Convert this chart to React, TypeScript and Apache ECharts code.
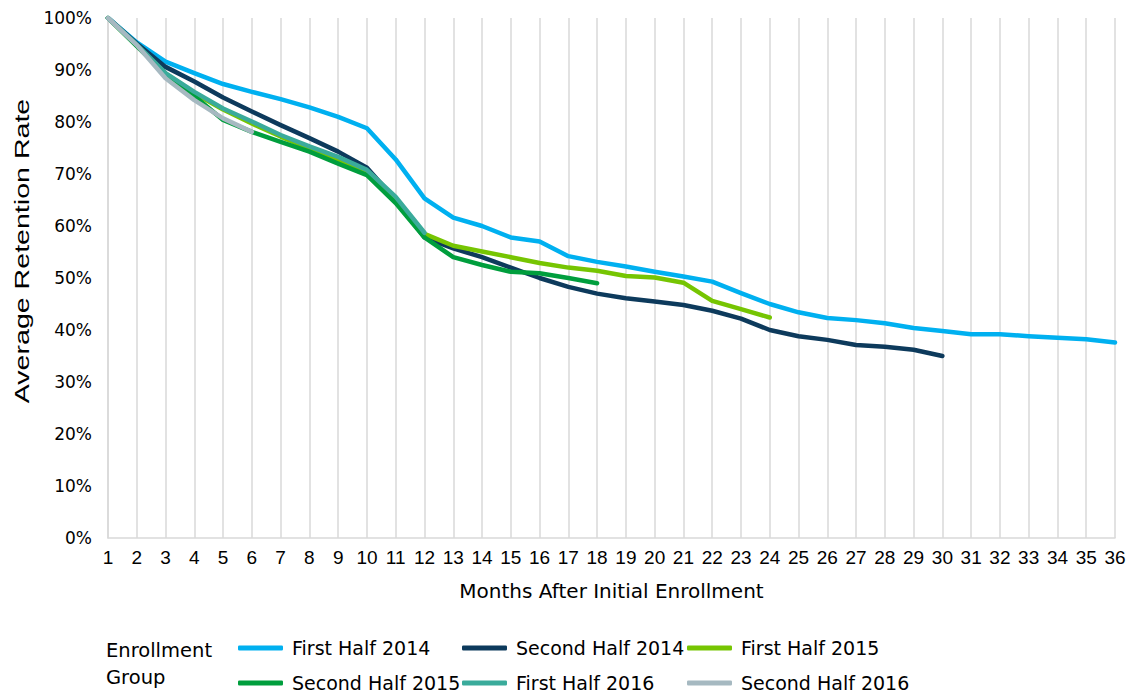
import React, { useEffect, useRef } from "react";
import * as echarts from "echarts";

const months: string[] = Array.from({ length: 36 }, (_, i) => String(i + 1));

const seriesNames: string[] = [
  "First Half 2014",
  "Second Half 2014",
  "First Half 2015",
  "Second Half 2015",
  "First Half 2016",
  "Second Half 2016",
];

const firstHalf2014: number[] = [
  100, 95.3, 91.6, 89.4, 87.3, 85.8, 84.4, 82.8, 81.0, 78.8, 72.8, 65.3, 61.6, 60.0, 57.8, 57.0,
  54.2, 53.1, 52.2, 51.2, 50.3, 49.3, 47.1, 45.0, 43.4, 42.3, 41.9, 41.3, 40.4, 39.8, 39.2, 39.2,
  38.8, 38.5, 38.2, 37.6,
];
const secondHalf2014: number[] = [
  100, 95.1, 90.6, 87.8, 84.7, 82.0, 79.4, 76.9, 74.3, 71.2, 65.0, 57.8, 55.7, 54.0, 52.0, 50.0,
  48.3, 47.0, 46.1, 45.5, 44.8, 43.7, 42.2, 40.0, 38.8, 38.1, 37.1, 36.8, 36.2, 35.0,
];
const firstHalf2015: number[] = [
  100, 94.7, 89.3, 85.5, 82.4, 79.7, 77.2, 74.9, 72.6, 70.2, 65.0, 58.5, 56.2, 55.1, 54.0, 52.9,
  52.0, 51.4, 50.4, 50.1, 49.1, 45.6, 44.0, 42.4,
];
const secondHalf2015: number[] = [
  100, 94.6, 89.2, 85.0, 80.4, 78.1, 76.2, 74.3, 72.0, 69.8, 64.4, 57.8, 54.0, 52.5, 51.2, 50.9,
  50.0, 49.0,
];
const firstHalf2016: number[] = [100, 94.9, 89.4, 85.8, 82.6, 80.1, 77.5, 75.3, 73.3, 70.8, 65.6, 58.7];
const secondHalf2016: number[] = [100, 94.8, 88.4, 84.2, 80.7, 78.1];

const seriesData: number[][] = [
  firstHalf2014,
  secondHalf2014,
  firstHalf2015,
  secondHalf2015,
  firstHalf2016,
  secondHalf2016,
];

const colors: string[] = ["#00b0f0", "#0d3a5c", "#76c502", "#009e3d", "#3aab9b", "#a6b9c1"];

const legendColumns: string[][] = [
  ["First Half 2014", "Second Half 2015"],
  ["Second Half 2014", "First Half 2016"],
  ["First Half 2015", "Second Half 2016"],
];
const legendLefts: number[] = [238, 462, 687];

export default function App() {
  const ref = useRef<HTMLDivElement>(null);

  useEffect(() => {
    document.body.style.margin = "0";
    if (!ref.current) return;
    const chart = echarts.init(ref.current, undefined, { renderer: "svg" });

    const option: any = {
      animation: false,
      color: colors,
      grid: { left: 108, right: 16, top: 18, bottom: 156, containLabel: false },
      xAxis: {
        type: "category",
        data: months,
        boundaryGap: false,
        name: "Months After Initial Enrollment",
        nameLocation: "middle",
        nameGap: 43,
        nameTextStyle: { fontFamily: "DejaVu Sans", fontSize: 20, color: "#000" },
        axisLine: { show: true, lineStyle: { color: "#d9d9d9", width: 1.5 } },
        axisTick: { show: false },
        splitLine: { show: true, interval: 0, lineStyle: { color: "#d9d9d9", width: 1.5 } },
        axisLabel: {
          interval: 0,
          margin: 10,
          fontFamily: "Liberation Sans Narrow, Arial Narrow, Liberation Sans",
          fontSize: 19,
          color: "#000",
        },
      },
      yAxis: {
        type: "value",
        min: 0,
        max: 100,
        interval: 10,
        axisLine: { show: true, lineStyle: { color: "#d9d9d9", width: 1.5 } },
        axisTick: { show: false },
        splitLine: { show: false },
        axisLabel: {
          formatter: "{value}%",
          margin: 16,
          fontFamily: "DejaVu Sans",
          fontSize: 17,
          color: "#000",
        },
      },
      legend: legendColumns.map((col, i) => ({
        data: col,
        orient: "vertical",
        left: legendLefts[i],
        top: 638,
        padding: 0,
        itemWidth: 45,
        itemHeight: 5,
        itemGap: 15,
        icon: "roundRect",
        selectedMode: false,
        textStyle: {
          fontFamily: "DejaVu Sans",
          fontSize: 19,
          color: "#000",
          lineHeight: 20,
          padding: [0, 0, 0, 4],
        },
      })),
      graphic: [
        {
          type: "text",
          x: 22,
          y: 251,
          rotation: Math.PI / 2,
          scaleX: 1.43,
          style: {
            text: "Average Retention Rate",
            fontFamily: "Liberation Sans, Arial",
            fontSize: 20,
            fill: "#000",
            textAlign: "center",
            textVerticalAlign: "middle",
          },
        },
        {
          type: "text",
          x: 106,
          y: 650,
          style: {
            text: "Enrollment",
            fontFamily: "DejaVu Sans",
            fontSize: 19.5,
            fill: "#000",
            textAlign: "left",
            textVerticalAlign: "middle",
          },
        },
        {
          type: "text",
          x: 106,
          y: 677,
          style: {
            text: "Group",
            fontFamily: "DejaVu Sans",
            fontSize: 19.5,
            fill: "#000",
            textAlign: "left",
            textVerticalAlign: "middle",
          },
        },
      ],
      series: seriesNames.map((name, i) => ({
        name,
        type: "line",
        data: seriesData[i],
        showSymbol: false,
        symbol: "none",
        lineStyle: { width: 4.5, color: colors[i], cap: "round", join: "round" },
        itemStyle: { color: colors[i] },
        z: 2 + i,
      })),
    };

    chart.setOption(option);
    return () => chart.dispose();
  }, []);

  return <div ref={ref} style={{ width: 1131, height: 694 }} />;
}
